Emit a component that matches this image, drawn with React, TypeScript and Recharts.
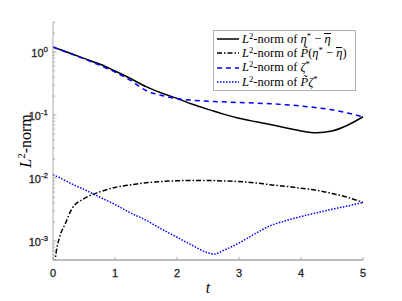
import { LineChart, Line, XAxis, YAxis } from 'recharts'

// time grid and the four L2-norm curves (log scale)
const T = [0, 0.05, 0.1, 0.2, 0.3, 0.5, 0.75, 1, 1.25, 1.5, 1.75, 2, 2.25, 2.5, 2.6, 2.75, 3, 3.25, 3.5, 3.75, 4, 4.25, 4.5, 4.75, 5]
const ETA_DIFF = [1.2, 1.153, 1.107, 1.02, 0.938, 0.794, 0.645, 0.5, 0.38, 0.282, 0.224, 0.184, 0.148, 0.123, 0.115, 0.1035, 0.089, 0.079, 0.071, 0.063, 0.056, 0.0525, 0.056, 0.069, 0.094]
const P_ETA_DIFF = [2e-4, 6.5e-4, 1.1e-3, 1.9e-3, 3.2e-3, 4.7e-3, 6.0e-3, 7.1e-3, 7.8e-3, 8.4e-3, 8.8e-3, 9.05e-3, 9.15e-3, 9.15e-3, 9.1e-3, 9.0e-3, 8.8e-3, 8.4e-3, 7.85e-3, 7.4e-3, 6.9e-3, 6.4e-3, 5.7e-3, 4.95e-3, 4.1e-3]
const ZETA = [1.2, 1.15, 1.1, 1.01, 0.93, 0.78, 0.62, 0.48, 0.355, 0.245, 0.205, 0.182, 0.172, 0.166, 0.164, 0.162, 0.158, 0.155, 0.151, 0.146, 0.139, 0.131, 0.121, 0.108, 0.094]
const P_ZETA = [0.0113, 0.0107, 0.0102, 0.0091, 0.0081, 0.0066, 0.005, 0.0038, 0.0028, 0.00214, 0.00155, 0.00115, 0.00085, 0.00065, 0.00062, 0.00071, 0.00093, 0.00129, 0.00174, 0.0021, 0.00245, 0.0028, 0.0032, 0.0036, 0.0041]

const X_TICKS = [0, 1, 2, 3, 4, 5]
const Y_MAJOR = [1e-3, 1e-2, 1e-1, 1]
const Y_MINOR = [6e-4, 7e-4, 8e-4, 9e-4, 2e-3, 3e-3, 4e-3, 5e-3, 6e-3, 7e-3, 8e-3, 9e-3, 2e-2, 3e-2, 4e-2, 5e-2, 6e-2, 7e-2, 8e-2, 9e-2, 0.2, 0.3, 0.4, 0.5, 0.6, 0.7, 0.8, 0.9, 2, 3]
const Y_DOMAIN: [number, number] = [5e-4, 3]

const data = T.map((t, i) => ({
  t,
  etaDiff: ETA_DIFF[i],
  pEtaDiff: P_ETA_DIFF[i],
  zeta: ZETA[i],
  pZeta: P_ZETA[i],
}))

const W = 402
const H = 301
const PLOT_LEFT = 53
const PLOT_BOTTOM = 260
const AXIS = '#a8a8a8'
const TICK_TXT = '#262626'
const SANS = '"Liberation Sans", Arial, sans-serif'
const SERIF = '"Liberation Serif", "Times New Roman", serif'

const SERIES = [
  { key: 'etaDiff', color: '#000000', dash: undefined as string | undefined },
  { key: 'pEtaDiff', color: '#000000', dash: '5 2 1.5 2' },
  { key: 'zeta', color: '#0000ff', dash: '5 4' },
  { key: 'pZeta', color: '#0000ff', dash: '1.5 1.5' },
]

const sup = { fontSize: '0.7em', position: 'relative', top: '-0.45em', lineHeight: 0 } as const
// η with a bar over it
const Bar = ({ children }: { children: any }) => (
  <i style={{ display: 'inline-block', borderTop: '1px solid #000', lineHeight: '0.75em', paddingTop: 1 }}>{children}</i>
)

const LABELS = [
  <>
    <i>L</i><span style={sup}>2</span>-norm of <i>η</i><span style={sup}>*</span> − <Bar>η</Bar>
  </>,
  <>
    <i>L</i><span style={sup}>2</span>-norm of <i>P̃</i>(<i>η</i><span style={sup}>*</span> − <Bar>η</Bar>)
  </>,
  <>
    <i>L</i><span style={sup}>2</span>-norm of <i>ζ</i><span style={sup}>*</span>
  </>,
  <>
    <i>L</i><span style={sup}>2</span>-norm of <i>P̃ζ</i><span style={sup}>*</span>
  </>,
]

function XTick(props: any) {
  const { x, payload } = props
  return (
    <g>
      <line x1={x} x2={x} y1={PLOT_BOTTOM} y2={PLOT_BOTTOM - 3} stroke={AXIS} />
      <text x={x} y={PLOT_BOTTOM + 13} textAnchor="middle" dominantBaseline="central" fontFamily={SANS} fontSize={11} fill={TICK_TXT} stroke={TICK_TXT} strokeWidth={0.3}>
        {payload.value}
      </text>
    </g>
  )
}

function YTick(props: any) {
  const { y, payload } = props
  const lg = Math.log10(payload.value)
  const exp = Math.round(lg)
  const major = Math.abs(lg - exp) < 1e-6
  return (
    <g>
      <line x1={PLOT_LEFT} x2={PLOT_LEFT + (major ? 3.5 : 2)} y1={y} y2={y} stroke={AXIS} />
      {major && (
        <text x={PLOT_LEFT - 5} y={y + 5} textAnchor="end" fontFamily={SANS} fontSize={11} fill={TICK_TXT} stroke={TICK_TXT} strokeWidth={0.3}>
          10<tspan dy={-5} fontSize={8}>{String(exp)}</tspan>
        </text>
      )}
    </g>
  )
}

function Legend() {
  return (
    <div
      style={{
        position: 'absolute',
        left: 213,
        top: 30,
        width: 143,
        height: 61,
        border: '1px solid #b0b0b0',
        background: '#fff',
        fontFamily: SERIF,
        fontSize: 12.5,
        color: '#000',
        boxSizing: 'border-box',
        paddingTop: 1,
      }}
    >
      {SERIES.map((s, i) => (
        <div key={s.key} style={{ display: 'flex', alignItems: 'center', height: 14.3, whiteSpace: 'nowrap' }}>
          <svg width={28} height={10} style={{ flex: 'none' }}>
            <line x1={3} x2={25} y1={5} y2={5} stroke={s.color} strokeWidth={1.5} strokeDasharray={s.dash} />
          </svg>
          <span>{LABELS[i]}</span>
        </div>
      ))}
    </div>
  )
}

export default function App() {
  return (
    <div style={{ position: 'absolute', left: 0, top: 0, width: W, height: H, background: '#fff' }}>
      <LineChart width={W} height={H} data={data} margin={{ top: 22, right: 39, bottom: 11, left: 23 }}>
        <XAxis
          dataKey="t"
          type="number"
          domain={[0, 5]}
          ticks={X_TICKS}
          interval={0}
          height={30}
          tickLine={false}
          axisLine={{ stroke: AXIS, strokeWidth: 1.5 }}
          tick={XTick}
          label={{
            content: (p: any) => (
              <text x={p.viewBox.x + p.viewBox.width / 2} y={p.viewBox.y + 33} textAnchor="middle" fontFamily={SERIF} fontStyle="italic" fontSize={16} fill="#000">
                t
              </text>
            ),
          }}
        />
        <YAxis
          scale="log"
          domain={Y_DOMAIN}
          allowDataOverflow
          ticks={[...Y_MAJOR, ...Y_MINOR]}
          interval={0}
          width={30}
          tickLine={false}
          axisLine={{ stroke: AXIS, strokeWidth: 1 }}
          tick={YTick}
          label={{
            content: (p: any) => {
              const cx = p.viewBox.x + 8
              const cy = p.viewBox.y + p.viewBox.height / 2
              return (
                <text x={cx} y={cy} transform={`rotate(-90 ${cx} ${cy})`} textAnchor="middle" fontFamily={SERIF} fontSize={16} fill="#000">
                  <tspan fontStyle="italic">L</tspan>
                  <tspan dy={-6} fontSize={11}>2</tspan>
                  <tspan dy={6}>-norm</tspan>
                </text>
              )
            },
          }}
        />
        {SERIES.map((s) => (
          <Line
            key={s.key}
            dataKey={s.key}
            type="monotone"
            stroke={s.color}
            strokeWidth={1.5}
            strokeDasharray={s.dash}
            dot={false}
            activeDot={false}
            isAnimationActive={false}
          />
        ))}
      </LineChart>
      <Legend />
    </div>
  )
}
